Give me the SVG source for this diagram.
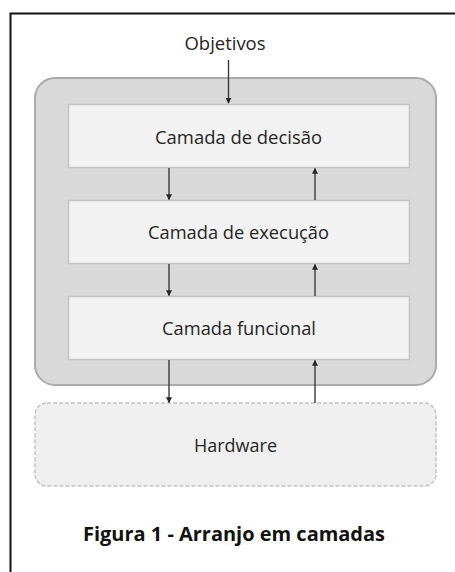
<svg xmlns="http://www.w3.org/2000/svg" width="455" height="572" viewBox="0 0 455 572">
<defs>
<style>
.lbl{font-family:"Open Sans","Liberation Sans",sans-serif;font-size:18px;fill:#262626;text-anchor:middle}
.layer{fill:#f2f2f2;stroke:#c4c4c4;stroke-width:1.5}
.conn{stroke:#3a3a3a;stroke-width:1.4;fill:none;marker-end:url(#ah)}
</style>
<marker id="ah" viewBox="0 0 8 8" refX="7" refY="4" markerWidth="6" markerHeight="6" markerUnits="userSpaceOnUse" orient="auto">
<path d="M0,0 L8,4 L0,8 z" fill="#262626"/>
</marker>
</defs>
<rect x="0" y="0" width="455" height="572" fill="#ffffff"/>
<path d="M10.5,572 V13.5 H455" fill="none" stroke="#111" stroke-width="2"/>
<g id="container">
<rect x="35" y="78" width="401" height="307" rx="20" ry="20" fill="#d9d9d9" stroke="#ababab" stroke-width="2"/>
</g>
<g id="objetivos">
<text class="lbl" x="225" y="50" textLength="81" lengthAdjust="spacingAndGlyphs">Objetivos</text>
</g>
<g id="decisao">
<rect class="layer" x="68.5" y="104.5" width="341" height="63"/>
<text class="lbl" x="238.5" y="144" textLength="167" lengthAdjust="spacingAndGlyphs">Camada de decisão</text>
</g>
<g id="execucao">
<rect class="layer" x="68.5" y="200.5" width="341" height="63"/>
<text class="lbl" x="238.5" y="239" textLength="181" lengthAdjust="spacingAndGlyphs">Camada de execução</text>
</g>
<g id="funcional">
<rect class="layer" x="68.5" y="296.5" width="341" height="63"/>
<text class="lbl" x="239" y="335" textLength="154" lengthAdjust="spacingAndGlyphs">Camada funcional</text>
</g>
<g id="hardware">
<rect x="35" y="403" width="401" height="83" rx="12" ry="12" fill="#efefef" stroke="#c4c4c4" stroke-width="1.5" stroke-dasharray="4,2"/>
<text class="lbl" x="235.5" y="452" textLength="83" lengthAdjust="spacingAndGlyphs">Hardware</text>
</g>
<g id="connectors">
<line class="conn" x1="228.5" y1="60" x2="228.5" y2="103"/>
<line class="conn" x1="169" y1="168" x2="169" y2="199.5"/>
<line class="conn" x1="169" y1="264" x2="169" y2="295.5"/>
<line class="conn" x1="169" y1="360" x2="169" y2="402.5"/>
<line class="conn" x1="315" y1="200" x2="315" y2="168.5"/>
<line class="conn" x1="315" y1="296" x2="315" y2="264.5"/>
<line class="conn" x1="315" y1="403" x2="315" y2="360.5"/>
</g>
<g id="caption">
<text x="234" y="541" font-family="'Open Sans','Liberation Sans',sans-serif" font-size="20" font-weight="bold" fill="#111" text-anchor="middle" textLength="302" lengthAdjust="spacingAndGlyphs">Figura 1 - Arranjo em camadas</text>
</g>
</svg>
